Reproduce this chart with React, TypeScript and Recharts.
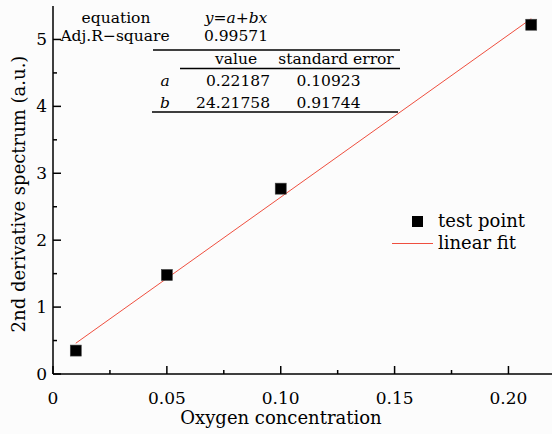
import { ScatterChart, Scatter, XAxis, YAxis, Legend } from "recharts";

// measured points (oxygen concentration vs 2nd derivative signal)
const testX = [0.01, 0.05, 0.1, 0.21];
const testY = [0.35, 1.48, 2.77, 5.22];

// linear fit end points
const fitX = [0.01, 0.21];
const fitY = [0.46, 5.31];

const xTicks = [0, 0.025, 0.05, 0.075, 0.1, 0.125, 0.15, 0.175, 0.2];
const xTickLabels = ["0", "", "0.05", "", "0.10", "", "0.15", "", "0.20"];
const yTicks = [0, 0.5, 1, 1.5, 2, 2.5, 3, 3.5, 4, 4.5, 5];
const yTickLabels = ["0", "", "1", "", "2", "", "3", "", "4", "", "5"];

// fit summary table
const eqLabels = ["equation", "Adj.R\u2212square"];
const eqValues = ["y=a+bx", "0.99571"];
const colHeaders = ["value", "standard error"];
const paramNames = ["a", "b"];
const paramValues = ["0.22187", "24.21758"];
const paramErrors = ["0.10923", "0.91744"];

const FONT = "'DejaVu Serif', serif";
const RED = "#ef4f3f";

const testData = testX.map((x, i) => ({ x, y: testY[i] }));
const fitData = fitX.map((x, i) => ({ x, y: fitY[i] }));

function Square(props: any) {
  const { cx, cy } = props;
  return <rect x={cx - 5.5} y={cy - 5.5} width={11} height={11} fill="#000" stroke="#444" strokeWidth={0.6} />;
}

function NoShape() {
  return <g />;
}

function BottomTick(props: any) {
  const { x, y, payload } = props;
  const i = xTicks.indexOf(payload.value);
  const major = i % 2 === 0;
  return (
    <g>
      <line x1={x} x2={x} y1={y} y2={y - (major ? 8 : 4)} stroke="#000" strokeWidth={1.5} />
      {major && (
        <text x={x} y={y + 29.5} textAnchor="middle" fontFamily={FONT} fontSize={17} fill="#000">
          {xTickLabels[i]}
        </text>
      )}
    </g>
  );
}

function TopTick(props: any) {
  const { x, y, payload } = props;
  const i = xTicks.indexOf(payload.value);
  const major = i % 2 === 0;
  return <line x1={x} x2={x} y1={y} y2={y + (major ? 8 : 4)} stroke="#000" strokeWidth={1.5} />;
}

function LeftTick(props: any) {
  const { x, y, payload } = props;
  const i = yTicks.indexOf(payload.value);
  const major = i % 2 === 0;
  return (
    <g>
      <line x1={x} x2={x + (major ? 8 : 4)} y1={y} y2={y} stroke="#000" strokeWidth={1.5} />
      {major && (
        <text x={x - 6} y={y + 6} textAnchor="end" fontFamily={FONT} fontSize={17} fill="#000">
          {yTickLabels[i]}
        </text>
      )}
    </g>
  );
}

function YTitle() {
  return (
    <text
      transform="translate(18,194) rotate(-90)"
      textAnchor="middle"
      dominantBaseline="central"
      fontFamily={FONT}
      fontSize={18}
      fill="#000"
    >
      2nd derivative spectrum (a.u.)
    </text>
  );
}

function XTitle() {
  return (
    <text x={281} y={424} textAnchor="middle" fontFamily={FONT} fontSize={18} fill="#000">
      Oxygen concentration
    </text>
  );
}

function FitLegend() {
  return (
    <svg width={150} height={50} style={{ overflow: "visible" }}>
      <rect x={22} y={7} width={11} height={11} fill="#000" />
      <text x={48} y={18} fontFamily={FONT} fontSize={18} fill="#000">
        test point
      </text>
      <line x1={2} x2={43} y1={34.5} y2={34.5} stroke={RED} strokeWidth={1} />
      <text x={48} y={40} fontFamily={FONT} fontSize={18} fill="#000">
        linear fit
      </text>
    </svg>
  );
}

function Equation({ x, y }: { x: number; y: number }) {
  return (
    <text x={x} y={y} textAnchor="middle" fontFamily={FONT} fontSize={15.5} fill="#000">
      {eqValues[0].split("").map((c, i) => (
        <tspan key={i} fontStyle={/[a-z]/.test(c) ? "italic" : "normal"}>
          {c}
        </tspan>
      ))}
    </text>
  );
}

function FitTable() {
  const t = { fontFamily: FONT, fontSize: 15.5, fill: "#000" };
  return (
    <svg
      width={552}
      height={434}
      style={{ position: "absolute", left: 0, top: 0, pointerEvents: "none" }}
    >
      <text x={116} y={23} textAnchor="middle" {...t}>{eqLabels[0]}</text>
      <text x={115} y={40.5} textAnchor="middle" {...t}>{eqLabels[1]}</text>
      <Equation x={236} y={23} />
      <text x={236} y={40.5} textAnchor="middle" {...t}>{eqValues[1]}</text>
      <line x1={153} x2={400} y1={50} y2={50} stroke="#000" strokeWidth={1.5} />
      <text x={236} y={64} textAnchor="middle" {...t}>{colHeaders[0]}</text>
      <text x={336} y={64} textAnchor="middle" {...t}>{colHeaders[1]}</text>
      <line x1={180} x2={400} y1={68.5} y2={68.5} stroke="#000" strokeWidth={1.5} />
      {paramNames.map((n, i) => (
        <g key={n}>
          <text x={165} y={86 + i * 22} textAnchor="middle" fontStyle="italic" {...t}>{n}</text>
          <text x={270} y={86 + i * 22} textAnchor="end" {...t}>{paramValues[i]}</text>
          <text x={328.5} y={86 + i * 22} textAnchor="middle" {...t}>{paramErrors[i]}</text>
        </g>
      ))}
      <line x1={152} x2={398} y1={112} y2={112} stroke="#000" strokeWidth={1.5} />
    </svg>
  );
}

export default function App() {
  return (
    <div
      style={{
        position: "absolute",
        left: 0,
        top: 0,
        width: 552,
        height: 434,
        overflow: "hidden",
        background: "#fcfcfc",
      }}
    >
      <ScatterChart width={560} height={434} margin={{ top: 6, right: 6, bottom: 0, left: 0 }}>
        <XAxis
          type="number"
          dataKey="x"
          domain={[0, 0.22]}
          ticks={xTicks}
          interval={0}
          tick={<BottomTick />}
          tickSize={0}
          tickMargin={0}
          tickLine={false}
          axisLine={{ stroke: "#000", strokeWidth: 1.5 }}
          height={60}
          allowDataOverflow
          label={<XTitle />}
        />
        <XAxis
          xAxisId="top"
          orientation="top"
          type="number"
          domain={[0, 0.22]}
          ticks={xTicks}
          interval={0}
          tick={<TopTick />}
          tickSize={0}
          tickMargin={0}
          tickLine={false}
          axisLine={{ stroke: "#000", strokeWidth: 1.5 }}
          height={0}
          allowDataOverflow
        />
        <YAxis
          type="number"
          dataKey="y"
          domain={[0, 5.5]}
          ticks={yTicks}
          interval={0}
          tick={<LeftTick />}
          tickSize={0}
          tickMargin={0}
          tickLine={false}
          axisLine={{ stroke: "#000", strokeWidth: 1.5 }}
          width={53}
          allowDataOverflow
          label={<YTitle />}
        />
        <Legend
          layout="horizontal"
          verticalAlign="middle"
          align="center"
          content={<FitLegend />}
          wrapperStyle={{ position: "absolute", left: 390, top: 209, width: 150 }}
        />
        <Scatter
          name="linear fit"
          data={fitData}
          line={{ stroke: RED, strokeWidth: 1 }}
          shape={<NoShape />}
          isAnimationActive={false}
        />
        <Scatter
          name="test point"
          data={testData}
          shape={<Square />}
          isAnimationActive={false}
        />
      </ScatterChart>
      <FitTable />
    </div>
  );
}
